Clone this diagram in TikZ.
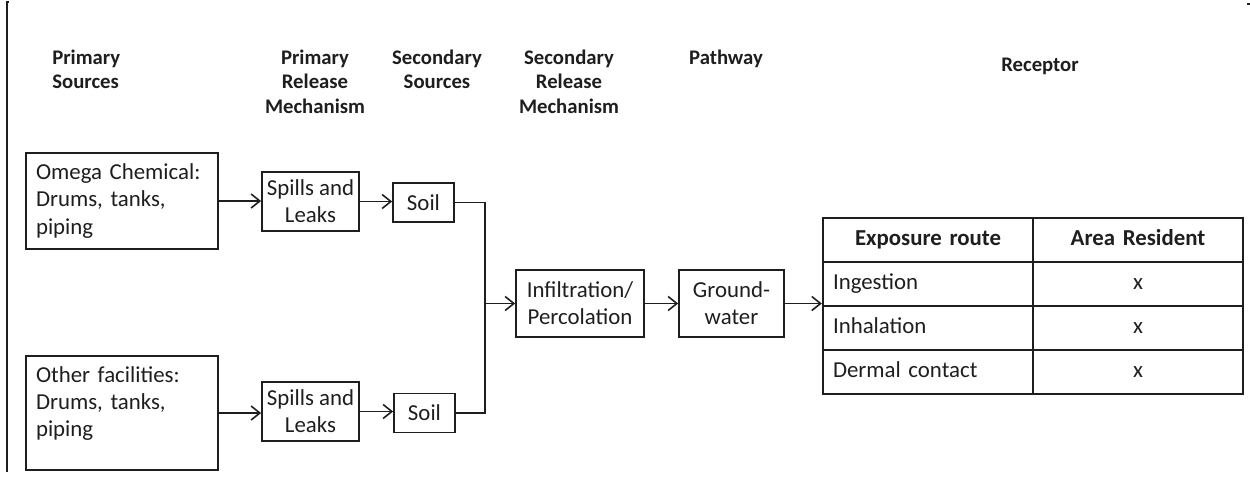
\documentclass[tikz,border=0pt]{standalone}
\usepackage{fontspec}
\setmainfont{Carlito}
\usepackage{tikz}
\usetikzlibrary{arrows.meta, matrix}
\usepackage{xcolor}
\definecolor{cmInk}{HTML}{1E1E1E}

\begin{document}
\begin{tikzpicture}[x=0.02cm, y=-0.02cm,
  every node/.style={text=cmInk},
  head/.style={anchor=north, inner sep=0pt, align=center,
    font=\fontsize{11.8}{13.7}\selectfont\bfseries},
  box/.style={draw=cmInk, line width=1pt, align=center, inner sep=2pt,
    font=\fontsize{13}{15.4}\selectfont},
  srcbox/.style={box, text width=3.44cm, align=left, inner xsep=0.2cm,
    minimum height=1.92cm},
  arr/.style={draw=cmInk, line width=0.9pt, -{Straight Barb[length=5pt, width=8pt]}},
  link/.style={draw=cmInk, line width=0.9pt}]
  \useasboundingbox (0,0) rectangle (1250,481);

  % page edge marks
  \draw[cmInk, line width=0.6pt] (9,2) -- (7,2) -- (7,472);
  \draw[cmInk, line width=0.6pt] (1247,4) -- (1250,4);

  % column headings
  \node[head, anchor=north west, align=left] (hPrimSrc) at (52,50) {Primary\\Sources};
  \node[head] (hPrimRel) at (315,50) {Primary\\Release\\Mechanism};
  \node[head] (hSecSrc) at (437,50) {Secondary\\Sources};
  \node[head] (hSecRel) at (569,50) {Secondary\\Release\\Mechanism};
  \node[head] (hPath) at (726,50) {Pathway};
  \node[head] (hRecep) at (1040,58) {Receptor};

  % sources and release boxes
  \node[srcbox] (omega) at (122,201) {Omega Chemical:\\Drums, tanks,\\piping};
  \node[srcbox, minimum height=2.28cm, text depth=44pt] (other) at (122,413)
    {Other facilities:\\Drums, tanks,\\piping};
  \node[box, minimum width=1.94cm, minimum height=1.18cm] (spillsA) at (310.5,201.5) {Spills and\\Leaks};
  \node[box, minimum width=1.94cm, minimum height=1.18cm] (spillsB) at (310.5,411.5) {Spills and\\Leaks};
  \node[box, minimum width=1.22cm, minimum height=0.78cm] (soilA) at (423.5,202.5) {Soil};
  \node[box, minimum width=1.22cm, minimum height=0.78cm] (soilB) at (424.5,413) {Soil};
  \node[box, minimum width=2.56cm, minimum height=1.34cm] (infil) at (580,303.5) {Infiltration/\\Percolation};
  \node[box, minimum width=2.1cm, minimum height=1.34cm] (ground) at (731.5,303.5) {Ground-\\water};

  % receptor table
  \matrix[matrix of nodes, inner sep=0pt, row sep=-1pt, column sep=-1pt,
    nodes={draw=cmInk, line width=1pt, text width=3.8cm, inner xsep=0.2cm,
      minimum height=0.88cm, text height=9pt, text depth=3pt,
      font=\fontsize{13}{15.4}\selectfont},
    column 1/.style={nodes={align=left}},
    column 2/.style={nodes={align=center}},
    row 1/.style={nodes={align=center, font=\fontsize{13}{15.4}\selectfont\bfseries}}]
    (expo) at (1033,306) {
    Exposure route & Area Resident \\
    Ingestion & x \\
    Inhalation & x \\
    Dermal contact & x \\
  };

  % connectors
  \draw[arr] (omega.east) -- (omega.east -| spillsA.west);
  \draw[arr] (spillsA.east) -- (spillsA.east -| soilA.west);
  \draw[arr] (other.east) -- (other.east -| spillsB.west);
  \draw[arr] (spillsB.east) -- (spillsB.east -| soilB.west);
  \coordinate (merge) at (485,303.5);
  \draw[link] (soilA.east) -| (merge);
  \draw[link] (soilB.east) -| (merge);
  \draw[arr] (merge) -- (infil.west);
  \draw[arr] (infil.east) -- (infil.east -| ground.west);
  \draw[arr] (ground.east) -- (ground.east -| expo.west);
\end{tikzpicture}
\end{document}
